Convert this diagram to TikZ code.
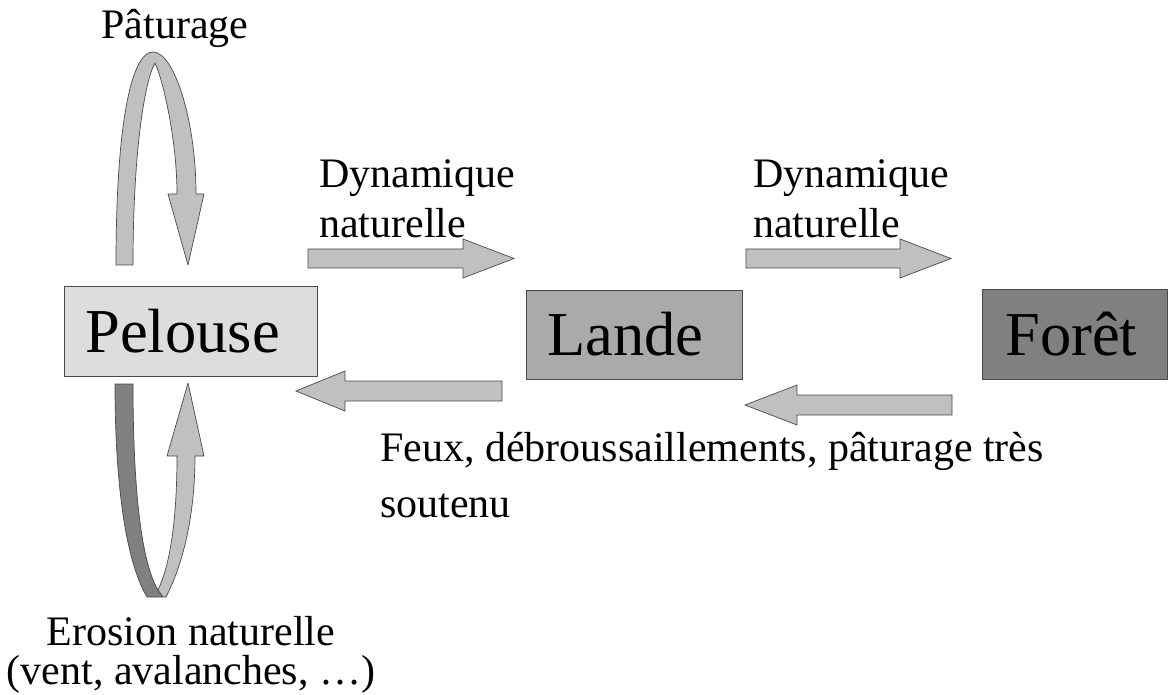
\documentclass[tikz,border=0pt]{standalone}
\usepackage{fontspec}
\setmainfont{Liberation Serif}
\definecolor{edge}{HTML}{4A4A4A}
\definecolor{arrowfill}{HTML}{C0C0C0}
\definecolor{darkband}{HTML}{808080}
\definecolor{pelfill}{HTML}{DDDDDD}
\definecolor{landefill}{HTML}{AAAAAA}
\definecolor{foretfill}{HTML}{808080}
\begin{document}
\begin{tikzpicture}[x=1pt,y=-1pt,
  box/.style={draw=edge, line width=0.8pt, minimum height=90, inner ysep=0,
    align=left, text height=42, text depth=0,
    font=\fontsize{62.5}{70}\selectfont, anchor=north west},
  blk/.style={fill=arrowfill, draw=edge, line width=0.7pt, line join=miter},
  band/.style={fill=darkband, draw=edge, line width=0.7pt, line join=round},
  lbl/.style={font=\fontsize{42}{50}\selectfont, inner sep=0, align=left}]
\useasboundingbox (0,0) rectangle (1168,695);

% boxes
\node[box, fill=pelfill, text width=211, inner xsep=21] (pel) at (64,286) {Pelouse};
\node[box, fill=landefill, text width=174, inner xsep=21, minimum height=89] (lan) at (526,290) {Lande};
\node[box, fill=foretfill, text width=139, inner xsep=23] (for) at (982,289) {Forêt};

% straight block arrows
\draw[blk] (308,249) -- (463,249) -- (463,239) -- (514,258.5) -- (463,278) -- (463,268) -- (308,268) -- cycle;
\draw[blk] (746,249) -- (900,249) -- (900,239) -- (951,258.5) -- (900,278) -- (900,268) -- (746,268) -- cycle;
\draw[blk] (502,381) -- (345,381) -- (345,371) -- (296,391) -- (345,411) -- (345,401) -- (502,401) -- cycle;
\draw[blk] (952,395) -- (797,395) -- (797,385) -- (745,405) -- (797,425) -- (797,415) -- (952,415) -- cycle;

% top loop (Paturage)
\draw[blk, line join=round] (116,265) .. controls (116,120) and (132,52) .. (153,52)
  .. controls (174,52) and (196,120) .. (196,194)
  -- (204,194) -- (188,265) -- (168,194) -- (177,194)
  .. controls (177,140) and (163,80) .. (155,63)
  .. controls (145,80) and (133,150) .. (133,265) -- cycle;

% bottom loop (Erosion)
\draw[band] (115,384) -- (133,384) .. controls (133,480) and (140,560) .. (158,590)
  -- (163,597) -- (147,597) .. controls (125,560) and (115,480) .. (115,384) -- cycle;
\draw[blk, line join=round] (158,590) -- (163,597) -- (166,597)
  .. controls (185,560) and (195,510) .. (195,456)
  -- (204,456) -- (188,383) -- (167,456) -- (177,456)
  .. controls (177,520) and (170,565) .. (158,590) -- cycle;

% labels (base anchor = baseline of the last line)
\node[lbl, anchor=base] (pat) at (175,39) {Pâturage};
\node[lbl, anchor=base west] (dyn1) at (319,238) {Dynamique\\naturelle};
\node[lbl, anchor=base west] (dyn2) at (753,238) {Dynamique\\naturelle};
\node[lbl, anchor=base west, font=\fontsize{42}{56}\selectfont] (feux) at (380,517) {Feux, débroussaillements, pâturage très\\soutenu};
\node[lbl, anchor=base, align=center, font=\fontsize{42}{39}\selectfont] (ero) at (191,684) {Erosion naturelle\\(vent, avalanches, …)};
\end{tikzpicture}
\end{document}
